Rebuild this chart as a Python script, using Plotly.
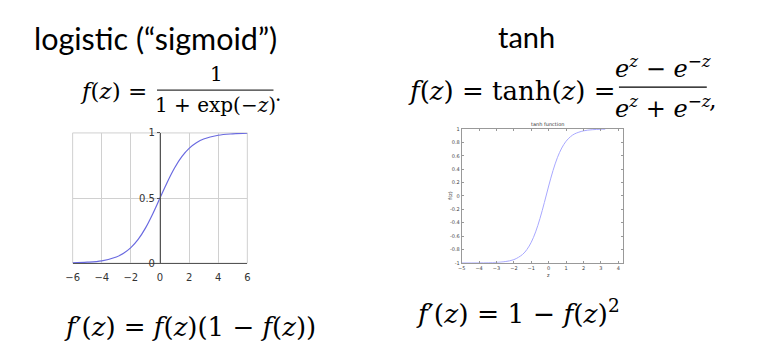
import plotly.graph_objects as go

W, H = 769, 360

# ---- data ----
logistic_z = [-6, -5, -4, -3, -2.5, -2, -1.5, -1, -0.5, 0, 0.5, 1, 1.5, 2, 2.5, 3, 4, 5, 6]
logistic_f = [0.003, 0.007, 0.018, 0.047, 0.076, 0.119, 0.182, 0.269, 0.378, 0.5,
              0.622, 0.731, 0.818, 0.881, 0.924, 0.953, 0.982, 0.993, 0.998]

tanh_z = [-5, -4, -3, -2.5, -2, -1.5, -1.25, -1, -0.75, -0.5, -0.25, 0,
          0.25, 0.5, 0.75, 1, 1.25, 1.5, 2, 2.5, 3, 3.25]
tanh_f = [-1.0, -0.999, -0.993, -0.981, -0.952, -0.874, -0.800, -0.691, -0.537, -0.336, -0.100, 0.149,
          0.380, 0.572, 0.716, 0.818, 0.885, 0.929, 0.973, 0.990, 0.997, 0.998]

logistic_xticks = [-6, -4, -2, 0, 2, 4, 6]
logistic_xticklabels = ["\u22126", "\u22124", "\u22122", "0", "2", "4", "6"]
logistic_yticks = [0, 0.5, 1]
logistic_yticklabels = ["0", "0.5", "1"]

tanh_xticks = [-5, -4, -3, -2, -1, 0, 1, 2, 3, 4]
tanh_yticks = [-1, -0.8, -0.6, -0.4, -0.2, 0, 0.2, 0.4, 0.6, 0.8, 1]
tanh_yticklabels = ["-1", "-0.8", "-0.6", "-0.4", "-0.2", "0", "0.2", "0.4", "0.6", "0.8", "1"]


def px(x):
    return x / W


def py(y):
    return 1 - y / H


fig = go.Figure()
fig.add_trace(go.Scatter(x=logistic_z, y=logistic_f, mode="lines",
                         line=dict(color="#6a6ae0", width=1.2, shape="spline"),
                         xaxis="x", yaxis="y", showlegend=False, hoverinfo="skip"))
fig.add_trace(go.Scatter(x=tanh_z, y=tanh_f, mode="lines",
                         line=dict(color="#a8a8ff", width=1, shape="spline"),
                         xaxis="x2", yaxis="y2", showlegend=False, hoverinfo="skip"))

lx0, lx1 = px(66.5), px(243.5)
ly0, ly1 = py(266), py(131.3)
tx0, tx1 = px(460.7), px(624.6)
ty0, ty1 = py(265.7), py(127.3)

tickfont_small = dict(family="DejaVu Sans", size=10, color="#333")
tinyfont = dict(family="DejaVu Sans", size=5, color="#444")

fig.update_layout(
    width=W, height=H, margin=dict(l=0, r=0, t=0, b=0),
    paper_bgcolor="white", plot_bgcolor="white",
    xaxis=dict(domain=[lx0, lx1], range=[-6, 6], anchor="y",
               tickvals=logistic_xticks, ticktext=logistic_xticklabels,
               tickfont=tickfont_small, ticks="outside", ticklen=5, tickcolor="rgba(0,0,0,0)",
               showgrid=True, gridcolor="#d0d0d0",
               gridwidth=1, zeroline=False, showline=True, linecolor="#555", linewidth=1,
               fixedrange=True),
    yaxis=dict(domain=[ly0, ly1], range=[0, 1], anchor="free", position=(lx0 + lx1) / 2,
               tickvals=logistic_yticks, ticktext=logistic_yticklabels,
               tickfont=tickfont_small, ticks="outside", ticklen=3, tickcolor="#555",
               showgrid=True, gridcolor="#d0d0d0", zeroline=False,
               showline=True, linecolor="#555", linewidth=1, fixedrange=True),
    xaxis2=dict(domain=[tx0, tx1], range=[-5, 4.3], anchor="y2",
                tickvals=tanh_xticks, tickfont=tinyfont, ticks="inside", ticklen=2,
                tickcolor="#999", showgrid=False, zeroline=False, showline=True,
                linecolor="#999", linewidth=1, mirror="ticks", fixedrange=True),
    yaxis2=dict(domain=[ty0, ty1], range=[-1, 1], anchor="x2",
                tickvals=tanh_yticks, ticktext=tanh_yticklabels, tickfont=tinyfont,
                ticks="inside", ticklen=2, tickcolor="#999", showgrid=False,
                zeroline=False, showline=True, linecolor="#999", linewidth=1,
                mirror="ticks", fixedrange=True),
)

ann = []
MATH = "DejaVu Serif"


def I(s):
    return '<i>' + s + '</i>'


def text(x, y, s, size, family=MATH, xanchor="center", yanchor="middle",
         color="black", textangle=0):
    ann.append(dict(x=px(x), y=py(y), xref="paper", yref="paper", text=s, showarrow=False,
                    xanchor=xanchor, yanchor=yanchor, textangle=textangle, borderpad=0,
                    font=dict(family=family, size=size, color=color)))


f, z, e = I("f"), I("z"), I("e")

# headings
text(150, 33, "logistic (\u201csigmoid\u201d)", 30.5, family="Lato")
text(526, 32, "tanh", 29, family="Lato")

# logistic formula
text(108, 88, f"{f}({z}) =", 23)
text(212, 70, "1", 20)
text(211, 102, f"1 + exp(\u2212{z})", 20)
text(275, 91, ".", 20)

# tanh formula
text(511, 88, f"{f}({z}) = tanh({z}) =", 26)
text(665, 63, f"{e}<sup>{z}</sup> \u2212 {e}<sup>\u2212{z}</sup>", 24)
text(665, 104, f"{e}<sup>{z}</sup> + {e}<sup>\u2212{z}</sup>", 24)
text(715, 97, ",", 24)

# derivative formulas
text(185, 332, f"{f}\u2032({z}) = {f}({z})(1 \u2212 {f}({z}))", 26)
text(518, 317, f"{f}\u2032({z}) = 1 \u2212 {f}({z})<sup>2</sup>", 26.5)

# tanh plot labels
text(548, 122, "tanh function", 5, family="DejaVu Sans", color="#333")
text(449, 196, "f(z)", 5, family="DejaVu Sans", color="#333", textangle=-90)
text(549, 278, "z", 5, family="DejaVu Sans", color="#333")

fig.update_layout(annotations=ann)

# logistic plot frame (light grey borders at x=-6, x=6 and y=1)
fig.add_shape(type="rect", xref="x domain", yref="y domain", x0=0, x1=1, y0=0, y1=1,
              line=dict(color="#d0d0d0", width=1), layer="below")

# fraction bars
fig.add_shape(type="line", xref="paper", yref="paper", x0=px(152), x1=px(270), y0=py(87), y1=py(87),
              line=dict(color="black", width=1))
fig.add_shape(type="line", xref="paper", yref="paper", x0=px(620), x1=px(709), y0=py(84), y1=py(84),
              line=dict(color="black", width=1.2))

fig.write_html("out.html", config={"displayModeBar": False})
